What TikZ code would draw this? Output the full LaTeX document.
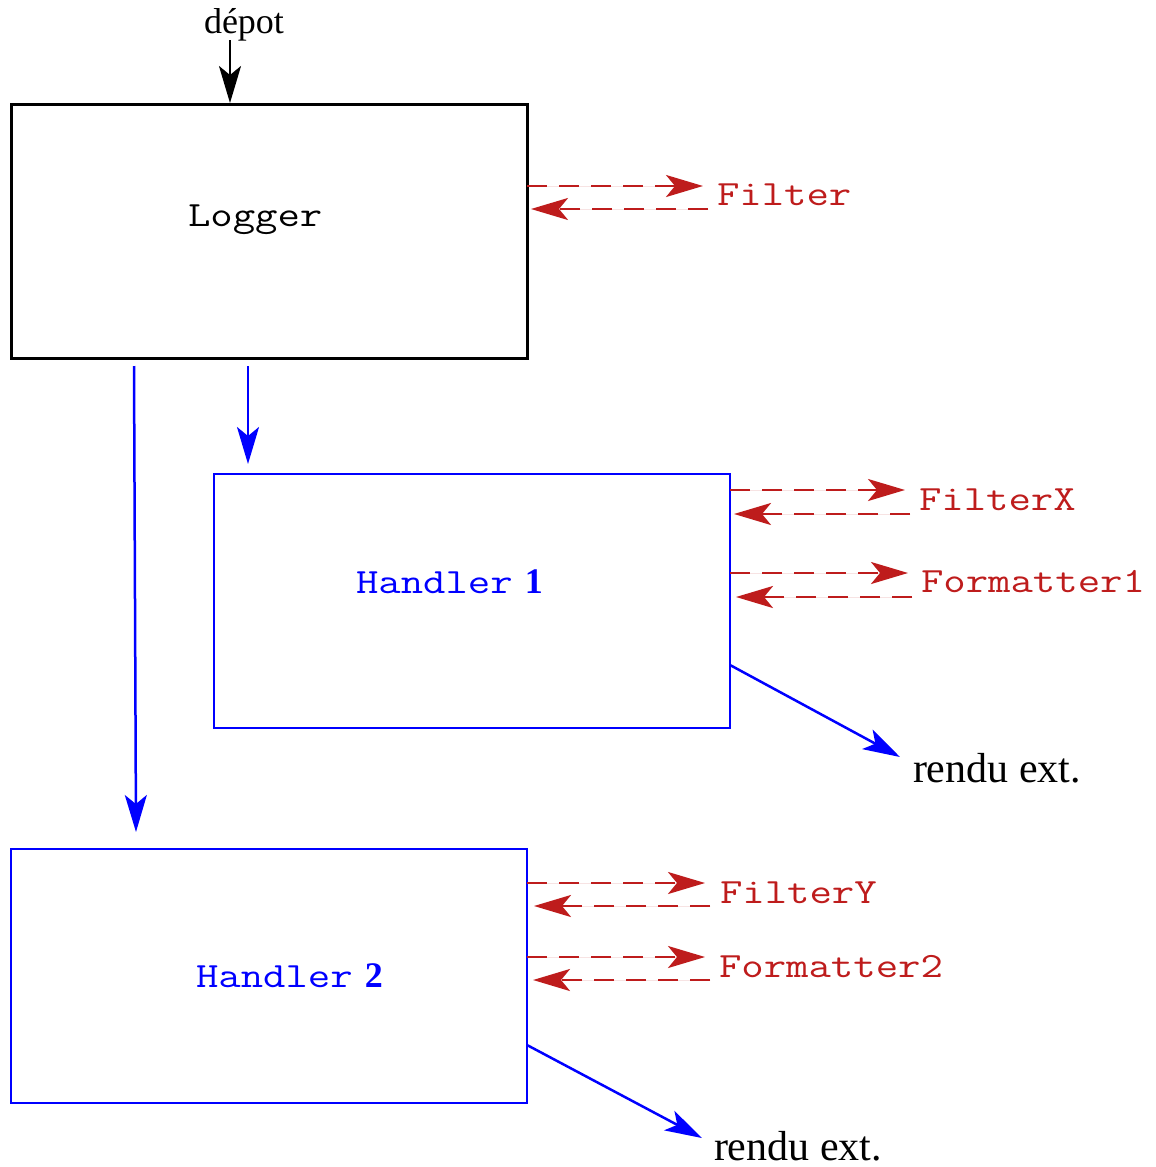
\documentclass[tikz,border=0pt]{standalone}
\usepackage{fontspec}
\setmainfont{Liberation Serif}
\usepackage{graphicx}
\usetikzlibrary{arrows.meta}
\definecolor{fred}{RGB}{190,28,28}
\definecolor{fblue}{RGB}{0,0,255}
% typewriter labels, slightly widened
\newcommand\mono[1]{\scalebox{1.225}[1]{\ttfamily\fontsize{35.5}{37}\selectfont #1}}
\newcommand\hnum[1]{{\fontsize{36}{36}\selectfont\bfseries #1}}

\begin{document}
\begin{tikzpicture}[x=1pt,y=-1pt,
  tip/.style={-{Stealth[length=37pt,width=22pt,inset=9pt]}},
  box/.style={draw, minimum width=516pt, minimum height=254pt, inner sep=0pt, outer sep=0pt},
  lbl/.style={inner sep=0pt, outer sep=0pt, anchor=base west},
  rdash/.style={tip, draw=fred, fill=fred, line width=2.7pt, dash pattern=on 20pt off 12pt},
  bflow/.style={tip, draw=fblue, fill=fblue, line width=2.5pt},
  kflow/.style={tip, draw=black, fill=black, line width=2.5pt},
]
\useasboundingbox (0,0) rectangle (1156,1167);

% boxes
\node[box, draw=black, line width=3pt] (logger) at (269,231) {};
\node[box, draw=fblue, line width=2.5pt] (h1) at (472,601) {};
\node[box, draw=fblue, line width=2.5pt] (h2) at (269,976) {};

% box titles
\node[lbl] (loggertxt) at (188,226) {\mono{Logger}};
\node[lbl, text=fblue] (h1txt) at (356,593) {\mono{Handler}\hspace{12pt}\hnum{1}};
\node[lbl, text=fblue] (h2txt) at (196,987) {\mono{Handler}\hspace{12pt}\hnum{2}};

% outside labels
\node[lbl] (depot) at (204,33) {\fontsize{36}{36}\selectfont dépot};
\node[lbl, text=fred] (filter) at (717,205) {\mono{Filter}};
\node[lbl, text=fred] (filterx) at (919,510) {\mono{FilterX}};
\node[lbl, text=fred] (fmt1) at (921,592) {\mono{Formatter1}};
\node[lbl, text=fred] (filtery) at (720,903) {\mono{FilterY}};
\node[lbl, text=fred] (fmt2) at (719,977) {\mono{Formatter2}};
\node[lbl] (out1) at (913,782) {\fontsize{42}{42}\selectfont rendu ext.};
\node[lbl] (out2) at (714,1160) {\fontsize{42}{42}\selectfont rendu ext.};

% connector end points
\coordinate (depA) at (230,40);
\coordinate (depB) at (230,103);
\coordinate (lgA) at (248,366);
\coordinate (h1In) at (248,464);
\coordinate (lgB) at (134,366);
\coordinate (h2In) at (136,832);
\coordinate (h1Out) at (730,665);
\coordinate (out1Tip) at (900,757);
\coordinate (h2Out) at (527,1045);
\coordinate (out2Tip) at (702,1138);

% incoming and forwarded records
\draw[kflow] (depA) -- (depB);
\draw[bflow] (lgA) -- (h1In);
\draw[bflow] (lgB) -- (h2In);
\draw[bflow] (h1Out) -- (out1Tip);
\draw[bflow] (h2Out) -- (out2Tip);

% filter / formatter exchanges
\draw[rdash] (527,186) -- (703,186);
\draw[rdash] (708,209) -- (531,209);

\draw[rdash] (730,490) -- (905,490);
\draw[rdash] (910,514) -- (734,514);
\draw[rdash] (730,573) -- (908,573);
\draw[rdash] (912,597) -- (736,597);

\draw[rdash] (527,883) -- (705,883);
\draw[rdash] (710,906) -- (534,906);
\draw[rdash] (527,957) -- (705,957);
\draw[rdash] (710,980) -- (533,980);
\end{tikzpicture}
\end{document}
